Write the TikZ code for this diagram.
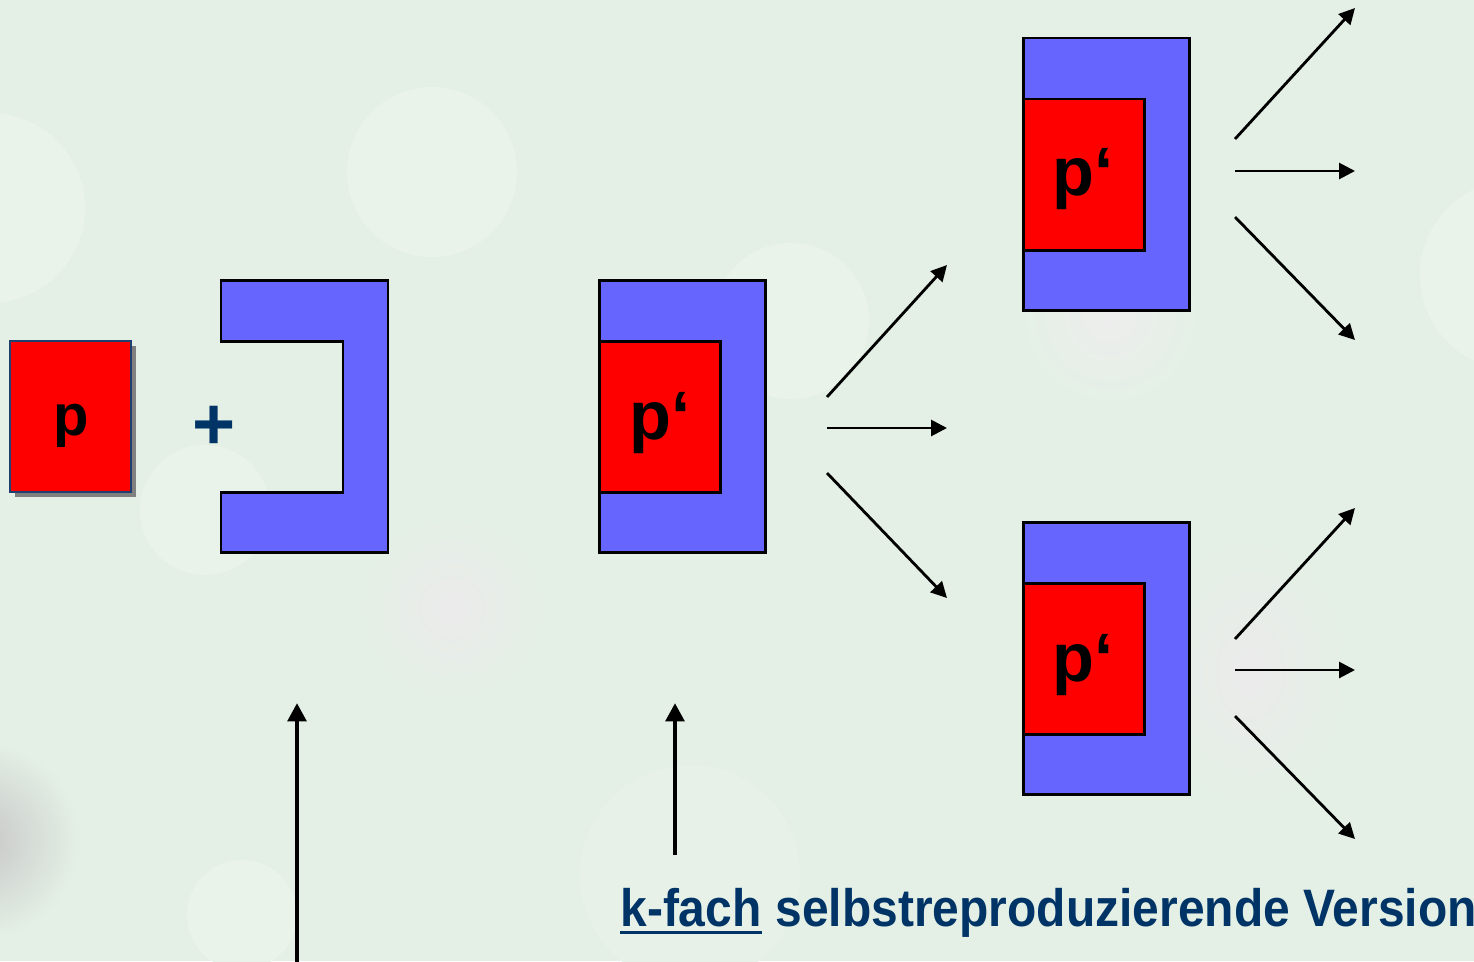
\documentclass[tikz,border=0pt]{standalone}
\usepackage{fontspec}
\setmainfont{Liberation Sans}
\newfontfamily\capfont[FakeStretch=0.91]{Liberation Sans}
\usetikzlibrary{arrows.meta,shadows}
\definecolor{bg}{HTML}{E4F0E5}
\definecolor{glow}{HTML}{E9F3EA}
\definecolor{cblue}{HTML}{6666FF}
\definecolor{cred}{HTML}{FF0000}
\definecolor{navy}{HTML}{003366}
\definecolor{pedge}{HTML}{1F3F6F}
\newdimen\px
\px=0.02cm
\begin{document}
\begin{tikzpicture}[x=0.02cm,y=-0.02cm,
  outerbox/.style={draw=black,fill=cblue,line width=1.7pt,inner sep=0pt,
    minimum width=166\px,minimum height=272\px},
  innerbox/.style={draw=black,fill=cred,line width=1.7pt,inner sep=0pt,
    minimum width=121\px,minimum height=151\px},
  cshape/.style={draw=black,fill=cblue,line width=1.7pt,line join=miter},
  plabel/.style={font=\fontsize{39}{39}\selectfont\bfseries,inner sep=0pt,anchor=base},
  thin arrow/.style={line width=1.6pt,-{Triangle[length=9pt,width=9pt]}},
  thick arrow/.style={line width=2.8pt,-{Triangle[length=10.5pt,width=10.5pt]}},
  caption/.style={font=\fontsize{30}{30}\selectfont\capfont\bfseries,text=navy,inner sep=0pt}]

% background with soft light discs and faint grey blobs
\fill[bg] (0,0) rectangle (1474,961);
\useasboundingbox (0,0) rectangle (1474,961);
\begin{scope}
  \clip (0,0) rectangle (1474,961);
  \fill[glow] (432,172) circle[radius=85];
  \fill[glow] (791,321) circle[radius=78];
  \fill[glow] (-10,208) circle[radius=95];
  \fill[glow] (205,510) circle[radius=65];
  \fill[glow] (242,915) circle[radius=55];
  \fill[glow] (1515,275) circle[radius=95];
  \fill[glow!50!bg] (690,875) circle[radius=110];
  \shade[inner color=black!8,outer color=bg] (452,608) circle[radius=95];
  \shade[inner color=black!7,outer color=bg] (1110,315) circle[radius=90];
  \shade[inner color=black!8,outer color=bg] (1250,672) ellipse[x radius=100,y radius=140];
  \shade[inner color=black!22,outer color=bg] (-20,840) circle[radius=100];
\end{scope}

% the lone part p
\node[innerbox,draw=pedge,line width=1.3pt,
  drop shadow={shadow xshift=5\px,shadow yshift=-5\px,fill=black!50,opacity=1}]
  (p0) at (70.5,416.5) {};
\node[plabel,font=\fontsize{33}{33}\selectfont\bfseries] (p0l) at (71,435) {p};

% plus sign
\node[font=\fontsize{42}{42}\selectfont\bfseries,text=navy,inner sep=0pt] (plus) at (214,428) {+};

% the empty C-shaped frame
\draw[cshape] (221,280) -- (388,280) -- (388,552) -- (221,552) -- (221,492)
  -- (343,492) -- (343,341) -- (221,341) -- cycle;

% assembled copy in the middle
\node[outerbox] (m) at (682.5,416) {};
\node[innerbox] (mi) at (660,416.5) {};
\node[plabel] (ml) at (660,439) {p‘};

% upper copy
\node[outerbox] (u) at (1106,174) {};
\node[innerbox] (ui) at (1083.5,174.5) {};
\node[plabel] (ul) at (1083,195.5) {p‘};

% lower copy
\node[outerbox] (d) at (1106,658) {};
\node[innerbox] (di) at (1083.5,658.5) {};
\node[plabel] (dl) at (1083,681.5) {p‘};

% fan of arrows from the middle copy
\coordinate (ma) at (827,397);  \coordinate (mA) at (947,265);
\coordinate (mb) at (827,428);  \coordinate (mB) at (947,428);
\coordinate (mc) at (827,473);  \coordinate (mC) at (947,598);
\draw[thin arrow] (ma) -- (mA);
\draw[thin arrow] (mb) -- (mB);
\draw[thin arrow] (mc) -- (mC);

% fan of arrows from the upper copy
\coordinate (ua) at (1235,139); \coordinate (uA) at (1355,8);
\coordinate (ub) at (1235,171); \coordinate (uB) at (1355,171);
\coordinate (uc) at (1235,217); \coordinate (uC) at (1355,340);
\draw[thin arrow] (ua) -- (uA);
\draw[thin arrow] (ub) -- (uB);
\draw[thin arrow] (uc) -- (uC);

% fan of arrows from the lower copy
\coordinate (da) at (1235,639); \coordinate (dA) at (1355,508);
\coordinate (db) at (1235,670); \coordinate (dB) at (1355,670);
\coordinate (dc) at (1235,716); \coordinate (dC) at (1355,839);
\draw[thin arrow] (da) -- (dA);
\draw[thin arrow] (db) -- (dB);
\draw[thin arrow] (dc) -- (dC);

% vertical pointers
\coordinate (v1s) at (297,965); \coordinate (v1e) at (297,703);
\coordinate (v2s) at (675,855); \coordinate (v2e) at (675,703);
\draw[thick arrow] (v1s) -- (v1e);
\draw[thick arrow] (v2s) -- (v2e);

% caption
\node[caption,anchor=base west] (kf) at (620,926) {k-fach};
\node[caption,anchor=base west] (rest) at (kf.base east) {\ selbstreproduzierende Version};
\draw[navy,line width=1.7pt] ([yshift=-6.5\px]kf.base west) -- ([yshift=-6.5\px]kf.base east);
\end{tikzpicture}
\end{document}
